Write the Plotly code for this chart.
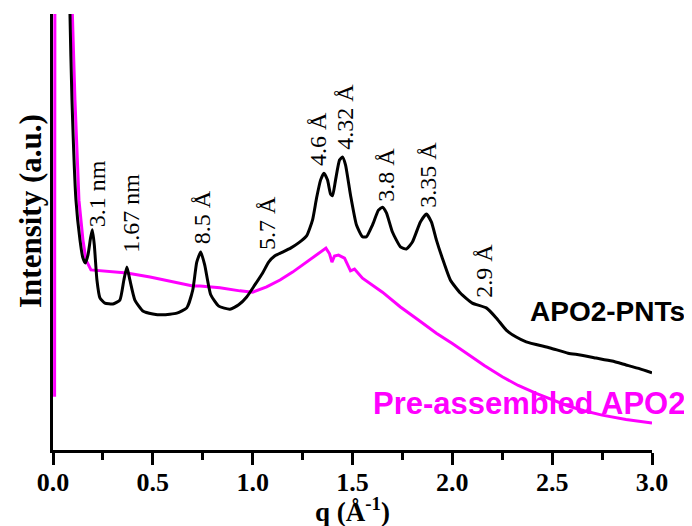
import plotly.graph_objects as go

# ---- data (q in 1/Å, intensity in a.u.) ----
pnt_q = [0.075, 0.085, 0.095, 0.115, 0.135, 0.150, 0.162, 0.175, 0.188, 0.197, 0.207,
         0.22, 0.235, 0.26, 0.30, 0.335, 0.355, 0.37, 0.385, 0.41, 0.45, 0.50, 0.55,
         0.62, 0.67, 0.70, 0.72, 0.74, 0.76, 0.79, 0.83, 0.886, 0.93, 0.97, 1.01,
         1.05, 1.08, 1.11, 1.15, 1.19, 1.23, 1.27, 1.30, 1.32, 1.34, 1.357, 1.375,
         1.39, 1.40, 1.415, 1.435, 1.45, 1.465, 1.49, 1.52, 1.55, 1.57, 1.60, 1.63,
         1.65, 1.67, 1.70, 1.74, 1.77, 1.80, 1.84, 1.87, 1.895, 1.92, 1.95, 1.99,
         2.04, 2.10, 2.17, 2.22, 2.27, 2.32, 2.37, 2.49, 2.58, 2.64, 2.72, 2.80,
         2.87, 2.94, 3.00]
pnt_i = [140, 100, 80.3, 57.3, 48.2, 44.0, 42.9, 44.7, 48.6, 50.5, 47.0,
         39.0, 34.9, 33.7, 33.5, 34.4, 39.0, 42.0, 39.0, 34.4, 31.9, 31.2, 31.0,
         31.4, 32.6, 36.7, 43.1, 45.4, 42.4, 35.6, 33.0, 32.3, 33.3, 35.1, 37.8,
         40.6, 43.1, 44.5, 45.4, 46.3, 47.5, 49.1, 52.8, 57.8, 61.9, 63.5, 61.9,
         58.7, 58.3, 61.9, 66.5, 67.2, 65.4, 58.5, 51.6, 48.9, 48.9, 51.6, 55.0,
         55.7, 54.4, 50.0, 46.6, 46.1, 47.7, 52.3, 54.1, 52.3, 48.2, 44.0, 39.0,
         36.0, 33.7, 32.6, 30.3, 27.5, 25.9, 24.8, 23.4, 22.2, 21.8, 21.1, 20.4,
         19.5, 18.6, 17.7]

pre_q = [0.008, 0.011, 0.085, 0.097, 0.11, 0.13, 0.15, 0.165, 0.19, 0.235, 0.30,
         0.37, 0.486, 0.60, 0.70, 0.736, 0.836, 0.936, 1.00, 1.07, 1.137, 1.20,
         1.27, 1.32, 1.367, 1.385, 1.397, 1.41, 1.43, 1.46, 1.48, 1.49, 1.51, 1.55,
         1.65, 1.74, 1.83, 1.92, 2.00, 2.07, 2.16, 2.25, 2.33, 2.42, 2.50, 2.58,
         2.66, 2.75, 2.87, 3.00]
pre_i = [12.2, 200, 140, 100, 80.3, 57.3, 48.2, 43.6, 41.3, 41.1, 40.9,
         40.6, 39.7, 38.5, 37.6, 37.6, 37.2, 36.5, 36.2, 37.4, 39.0, 40.8,
         43.1, 44.7, 46.3, 45.0, 43.1, 44.5, 44.7, 44.0, 42.0, 41.1, 41.5, 39.4,
         36.2, 32.8, 29.8, 26.8, 24.4, 22.2, 19.4, 16.8, 14.8, 13.0, 11.5, 10.1,
         9.0, 8.0, 7.0, 6.2]

peak_labels = ["3.1 nm", "1.67 nm", "8.5 Å", "5.7 Å", "4.6 Å", "4.32 Å",
               "3.8 Å", "3.35 Å", "2.9 Å"]
label_q = [0.22, 0.39, 0.746, 1.072, 1.327, 1.462, 1.667, 1.878, 2.158]
label_i = [58.9, 54.4, 53.4, 52.1, 71.3, 76.4, 63.1, 63.1, 41.1]

x_ticks = [0.0, 0.5, 1.0, 1.5, 2.0, 2.5, 3.0]
x_ticktext = ["0.0", "0.5", "1.0", "1.5", "2.0", "2.5", "3.0"]

SERIF = "Liberation Serif, Times New Roman, serif"
SANS = "Liberation Sans, Arial, sans-serif"

fig = go.Figure()
fig.add_trace(go.Scatter(x=pre_q, y=pre_i, mode="lines",
                         line=dict(color="#FF00FF", width=3),
                         showlegend=False, hoverinfo="skip"))
fig.add_trace(go.Scatter(x=pnt_q, y=pnt_i, mode="lines",
                         line=dict(color="black", width=3, shape="spline", smoothing=0.5),
                         showlegend=False, hoverinfo="skip"))

for t, q, v in zip(peak_labels, label_q, label_i):
    fig.add_annotation(x=q, y=v, xref="x", yref="y", text=t, textangle=-90,
                       showarrow=False, xanchor="center", yanchor="middle",
                       font=dict(family=SERIF, size=24, color="black"))

fig.add_annotation(x=(687 - 53) / 599, y=(450 - 311) / 436, xref="paper", yref="paper",
                   text="<b>APO2-PNTs</b>", showarrow=False,
                   xanchor="right", yanchor="middle",
                   font=dict(family=SANS, size=28, color="black"))
fig.add_annotation(x=(687 - 53) / 599, y=(450 - 403) / 436, xref="paper", yref="paper",
                   text="<b>Pre-assembled APO2</b>", showarrow=False,
                   xanchor="right", yanchor="middle",
                   font=dict(family=SANS, size=31, color="#FF00FF"))

# axis titles
fig.add_annotation(x=-23 / 599, y=(450 - 211) / 436, xref="paper", yref="paper",
                   text="<b>Intensity (a.u.)</b>", textangle=-90, showarrow=False,
                   xanchor="center", yanchor="middle",
                   font=dict(family=SERIF, size=31, color="black"))
fig.add_annotation(x=0.5, y=-60 / 436, xref="paper", yref="paper",
                   text="<b>q (Å<sup>-1</sup>)</b>", showarrow=False,
                   xanchor="center", yanchor="middle",
                   font=dict(family=SERIF, size=27, color="black"))

fig.update_layout(
    width=684, height=518,
    margin=dict(l=45, r=40, t=6, b=76),
    paper_bgcolor="white", plot_bgcolor="white",
    xaxis=dict(range=[0, 3], tickvals=x_ticks,
               ticktext=["<b>" + s + "</b>" for s in x_ticktext],
               showgrid=False, zeroline=False, showline=True,
               linecolor="black", linewidth=3,
               ticks="outside", ticklen=12, tickwidth=3, tickcolor="black",
               ticklabelstandoff=-5,
               minor=dict(ticks="outside", ticklen=7, tickwidth=3,
                          tickcolor="black", dtick=0.25, showgrid=False),
               tickfont=dict(family=SERIF, size=26, color="black")),
    yaxis=dict(range=[0, 100], showgrid=False, zeroline=False, showline=True,
               linecolor="black", linewidth=3, ticks="", showticklabels=False),
)

fig.write_html("out.html")
